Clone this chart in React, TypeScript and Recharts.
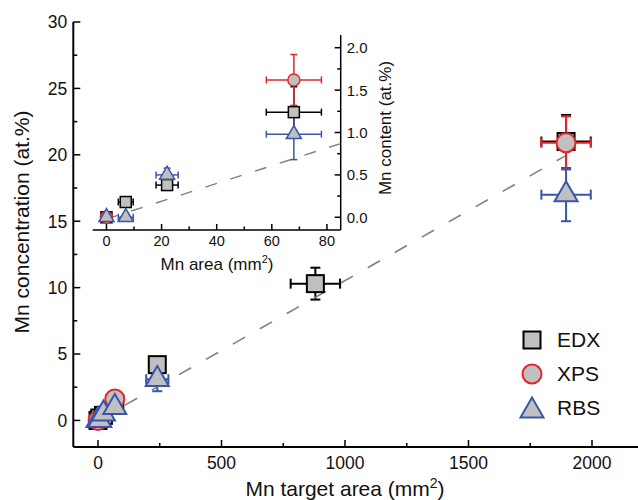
import React from 'react';
import { ScatterChart, Scatter, XAxis, YAxis, ErrorBar } from 'recharts';

// measured values, target area (mm2) vs Mn content (at.%)
const edxArea = [0, 7, 22, 68, 240, 880, 1895];
const edxConc = [0, 0.18, 0.38, 1.24, 4.2, 10.3, 21.0];
const edxAreaErr = [null, 2.7, 4, 10, 20, 100, 100];
const edxConcErr = [null, 0.04, 0.06, 0.3, 0.2, 1.2, 2.0];

const xpsArea = [0, 68, 1895];
const xpsConc = [0, 1.62, 20.9];
const xpsAreaErr = [null, 10, 100];
const xpsConcErr = [null, 0.3, 2.0];

const rbsArea = [0, 7, 22, 68, 240, 1895];
const rbsConc = [0, 0, 0.5, 0.98, 3.1, 17.0];
const rbsAreaErr = [null, 2.7, 4, 10, 45, 100];
const rbsConcErr = [null, 0.03, 0.08, 0.3, 0.9, 2.0];

// dashed linear guide
const fitMainX = [0, 1890];
const fitMainY = [0, 19.9];
const fitInsetX = [0, 85];
const fitInsetY = [-0.02, 0.87];

const mainXTicks = [0, 250, 500, 750, 1000, 1250, 1500, 1750, 2000];
const mainYTicks = [0, 2.5, 5, 7.5, 10, 12.5, 15, 17.5, 20, 22.5, 25, 27.5, 30];
const insetXTicks = [0, 10, 20, 30, 40, 50, 60, 70, 80];
const insetYTicks = [0, 0.25, 0.5, 0.75, 1, 1.25, 1.5, 1.75, 2];

const FONT = '"Liberation Sans", Arial, sans-serif';
const RED = '#e8232a';
const BLUE = '#3a56a8';
const GRAY = '#c0c0c0';

const build = (xs: number[], ys: number[], ex: (number | null)[], ey: (number | null)[]) =>
  xs.map((x, i) => ({ x, y: ys[i], ex: ex[i] ?? undefined, ey: ey[i] ?? undefined }));

const edx = build(edxArea, edxConc, edxAreaErr, edxConcErr);
const xps = build(xpsArea, xpsConc, xpsAreaErr, xpsConcErr);
const rbs = build(rbsArea, rbsConc, rbsAreaErr, rbsConcErr);
const fitMain = fitMainX.map((x, i) => ({ x, y: fitMainY[i] }));
const fitInset = fitInsetX.map((x, i) => ({ x, y: fitInsetY[i] }));
const small = (d: { x: number }[]) => d.filter(p => p.x <= 85);

const onStep = (v: number, step: number) => Math.abs(v / step - Math.round(v / step)) < 1e-6;

const makeTick = (side: string, gap: number, step: number, big: number, little: number, label: boolean, fs: number, fmt?: (v: number) => string) =>
  (props: any) => {
    const { x, y, payload } = props;
    const v = payload.value;
    const major = onStep(v, step);
    const len = major ? big : little;
    const txt = fmt ? fmt(v) : String(v);
    const st = { stroke: '#000', strokeWidth: 1.5 };
    if (side === 'left') {
      const ax = x + gap;
      return (
        <g>
          <line x1={ax} x2={ax + len} y1={y} y2={y} {...st} />
          {label && major && <text x={x} y={y} dy="0.36em" textAnchor="end" fontSize={fs} fontFamily={FONT} fill="#111">{txt}</text>}
        </g>
      );
    }
    if (side === 'right') {
      const ax = x - gap;
      return (
        <g>
          <line x1={ax} x2={ax - len} y1={y} y2={y} {...st} />
          {label && major && <text x={x} y={y} dy="0.36em" textAnchor="start" fontSize={fs} fontFamily={FONT} fill="#111">{txt}</text>}
        </g>
      );
    }
    if (side === 'top') {
      const ay = y + gap;
      return <line x1={x} x2={x} y1={ay} y2={ay + len} {...st} />;
    }
    const ay = y - gap;
    return (
      <g>
        <line x1={x} x2={x} y1={ay} y2={ay - len} {...st} />
        {label && major && <text x={x} y={y} dy="0.71em" textAnchor="middle" fontSize={fs} fontFamily={FONT} fill="#111">{txt}</text>}
      </g>
    );
  };

const square = (s: number, sw: number) => (p: any) => (
  <rect x={p.cx - s / 2} y={p.cy - s / 2} width={s} height={s} fill={GRAY} stroke="#000" strokeWidth={sw} />
);
const circle = (d: number, sw: number) => (p: any) => (
  <circle cx={p.cx} cy={p.cy} r={d / 2} fill={GRAY} stroke={RED} strokeWidth={sw} />
);
const triangle = (w: number, h: number, sw: number) => (p: any) => (
  <polygon
    points={`${p.cx},${p.cy - (2 * h) / 3} ${p.cx - w / 2},${p.cy + h / 3} ${p.cx + w / 2},${p.cy + h / 3}`}
    fill={GRAY}
    stroke={BLUE}
    strokeWidth={sw}
    strokeLinejoin="miter"
  />
);
const nothing = () => <g />;

const Bars = (color: string, sw: number, w: number) => [
  <ErrorBar key="ex" dataKey="ex" direction="x" stroke={color} strokeWidth={sw} width={w} isAnimationActive={false} />,
  <ErrorBar key="ey" dataKey="ey" direction="y" stroke={color} strokeWidth={sw} width={w} isAnimationActive={false} />,
];

const axisLine = { stroke: '#000', strokeWidth: 2 };
const insetLine = { stroke: '#000', strokeWidth: 1.5 };

export default function App() {
  return (
    <div style={{ position: 'absolute', left: 0, top: 0, width: 638, height: 500, overflow: 'hidden', background: '#fff', fontFamily: FONT }}>
      <div style={{ position: 'absolute', left: 0, top: 0 }}>
        <ScatterChart width={660} height={500} margin={{ top: 22, right: 18.6, bottom: 0, left: 0 }}>
          <XAxis xAxisId="b" type="number" dataKey="x" domain={[-100, 2200]} ticks={mainXTicks} interval={0} allowDataOverflow
            orientation="bottom" height={53} tickSize={0} tickMargin={10} axisLine={axisLine} tickLine={false}
            tick={makeTick('bottom', 10, 500, 7, 4, true, 17.5)} />
          <XAxis xAxisId="t" type="number" dataKey="x" domain={[-100, 2200]} ticks={mainXTicks} interval={0} allowDataOverflow
            orientation="top" height={0} tickSize={0} tickMargin={0} axisLine={axisLine} tickLine={false}
            tick={makeTick('top', 0, 500, 6, 4, false, 17)} />
          <YAxis yAxisId="l" type="number" dataKey="y" domain={[-2, 30]} ticks={mainYTicks} interval={0} allowDataOverflow
            width={73.3} tickSize={0} tickMargin={6} axisLine={axisLine} tickLine={false}
            tick={makeTick('left', 6, 5, 7, 4, true, 17.5)} />
          <Scatter xAxisId="b" yAxisId="l" data={fitMain} shape={nothing} isAnimationActive={false}
            line={{ stroke: '#7f7f7f', strokeWidth: 1.6, strokeDasharray: '14 17' }} />
          <Scatter xAxisId="b" yAxisId="l" name="EDX" data={edx} shape={square(17, 2)} isAnimationActive={false}>
            {Bars('#000', 2, 5)}
          </Scatter>
          <Scatter xAxisId="b" yAxisId="l" name="XPS" data={xps} shape={circle(19, 2)} isAnimationActive={false}>
            {Bars(RED, 2, 5)}
          </Scatter>
          <Scatter xAxisId="b" yAxisId="l" name="RBS" data={rbs} shape={triangle(23, 20, 2)} isAnimationActive={false}>
            {Bars(BLUE, 2, 5)}
          </Scatter>
        </ScatterChart>
      </div>

      <div style={{ position: 'absolute', left: 0, top: 0 }}>
        <ScatterChart width={400} height={260} margin={{ top: 35, right: 0, bottom: 0, left: 92.7 }}>
          <XAxis xAxisId="b" type="number" dataKey="x" domain={[-5, 85]} ticks={insetXTicks} interval={0} allowDataOverflow
            orientation="bottom" height={30} tickSize={0} tickMargin={6} axisLine={insetLine} tickLine={false}
            tick={makeTick('bottom', 6, 20, 6, 3.5, true, 14.5)} />
          <XAxis xAxisId="t" type="number" dataKey="x" domain={[-5, 85]} ticks={insetXTicks} interval={0} allowDataOverflow
            orientation="top" height={0} tickSize={0} tickMargin={0} axisLine={insetLine} tickLine={false}
            tick={makeTick('top', 0, 20, 6, 3.5, false, 14)} />
          <YAxis yAxisId="l" type="number" dataKey="y" domain={[-0.15, 2.15]} ticks={insetYTicks} interval={0} allowDataOverflow
            orientation="left" width={0} tickSize={0} tickMargin={0} axisLine={insetLine} tickLine={false}
            tick={makeTick('left', 0, 0.5, 6, 3.5, false, 14)} />
          <YAxis yAxisId="r" type="number" dataKey="y" domain={[-0.15, 2.15]} ticks={insetYTicks} interval={0} allowDataOverflow
            orientation="right" width={59.3} tickSize={0} tickMargin={6} axisLine={insetLine} tickLine={false}
            tick={makeTick('right', 6, 0.5, 6, 3.5, true, 15, v => v.toFixed(1))} />
          <Scatter xAxisId="b" yAxisId="r" data={fitInset} shape={nothing} isAnimationActive={false}
            line={{ stroke: '#7f7f7f', strokeWidth: 1.4, strokeDasharray: '12 14' }} />
          <Scatter xAxisId="b" yAxisId="r" data={small(edx)} shape={square(11, 1.5)} isAnimationActive={false}>
            {Bars('#000', 1.5, 3.5)}
          </Scatter>
          <Scatter xAxisId="b" yAxisId="r" data={small(xps)} shape={circle(12, 1.5)} isAnimationActive={false}>
            {Bars(RED, 1.5, 3.5)}
          </Scatter>
          <Scatter xAxisId="b" yAxisId="r" data={small(rbs)} shape={triangle(15, 13, 1.5)} isAnimationActive={false}>
            {Bars(BLUE, 1.5, 3.5)}
          </Scatter>
        </ScatterChart>
      </div>

      {/* axis titles */}
      <div style={{ position: 'absolute', left: 22, top: 222, transform: 'translate(-50%, -50%) rotate(-90deg)', whiteSpace: 'nowrap', fontSize: 21, color: '#111' }}>
        Mn concentration (at.%)
      </div>
      <div style={{ position: 'absolute', left: 345, top: 488, transform: 'translate(-50%, -50%)', whiteSpace: 'nowrap', fontSize: 21, color: '#111' }}>
        Mn target area (mm<sup style={{ fontSize: 14 }}>2</sup>)
      </div>
      <div style={{ position: 'absolute', left: 217, top: 264, transform: 'translate(-50%, -50%)', whiteSpace: 'nowrap', fontSize: 17, color: '#111' }}>
        Mn area (mm<sup style={{ fontSize: 11 }}>2</sup>)
      </div>
      <div style={{ position: 'absolute', left: 386, top: 128, transform: 'translate(-50%, -50%) rotate(-90deg)', whiteSpace: 'nowrap', fontSize: 17, color: '#111' }}>
        Mn content (at.%)
      </div>

      {/* legend */}
      <div style={{ position: 'absolute', left: 520, top: 323, fontSize: 21, color: '#111' }}>
        {[
          { n: 'EDX', m: <rect x={3.5} y={3.5} width={17} height={17} fill={GRAY} stroke="#000" strokeWidth={2} /> },
          { n: 'XPS', m: <circle cx={12} cy={12} r={9.5} fill={GRAY} stroke={RED} strokeWidth={2} /> },
          { n: 'RBS', m: <polygon points="12,1.5 0.5,21.5 23.5,21.5" fill={GRAY} stroke={BLUE} strokeWidth={2} /> },
        ].map(r => (
          <div key={r.n} style={{ display: 'flex', alignItems: 'center', height: 34 }}>
            <svg width={24} height={24} style={{ overflow: 'visible' }}>{r.m}</svg>
            <span style={{ marginLeft: 13 }}>{r.n}</span>
          </div>
        ))}
      </div>
    </div>
  );
}
